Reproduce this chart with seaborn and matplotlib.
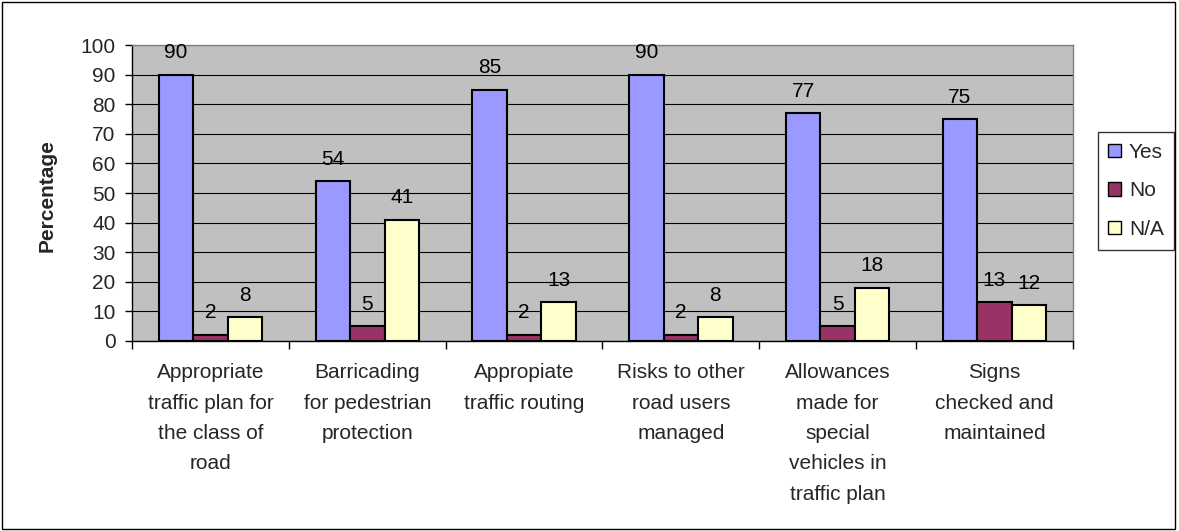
"""
Traffic management checklist - grouped bar chart
"""

import matplotlib
matplotlib.use('Agg')
import matplotlib.pyplot as plt
import matplotlib.patches as mpatches
import pandas as pd
import seaborn as sns

# Categories and series values
CATEGORIES = [
    'Appropriate\ntraffic plan for\nthe class of\nroad',
    'Barricading\nfor pedestrian\nprotection',
    'Appropiate\ntraffic routing',
    'Risks to other\nroad users\nmanaged',
    'Allowances\nmade for\nspecial\nvehicles in\ntraffic plan',
    'Signs\nchecked and\nmaintained',
]
SERIES = ['Yes', 'No', 'N/A']
YES = [90, 54, 85, 90, 77, 75]
NO = [2, 5, 2, 2, 5, 13]
NA = [8, 41, 13, 8, 18, 12]
Y_TICKS = [0, 10, 20, 30, 40, 50, 60, 70, 80, 90, 100]

COLORS = ['#9999FF', '#993366', '#FFFFCC']
FS = 15

# Long-form table for seaborn
rows = []
for name, vals in zip(SERIES, [YES, NO, NA]):
    for cat, v in zip(CATEGORIES, vals):
        rows.append({'category': cat, 'series': name, 'value': v})
df = pd.DataFrame(rows)

sns.set_style('white')
plt.rcParams['font.family'] = ['Liberation Sans', 'DejaVu Sans']

fig = plt.figure(figsize=(11.79, 5.31), dpi=100)
ax = fig.add_axes([0.112, 0.358, 0.798, 0.557])

sns.barplot(data=df, x='category', y='value', hue='series',
            hue_order=SERIES, palette=COLORS, width=0.66,
            edgecolor='black', linewidth=1.5, saturation=1,
            ax=ax, legend=False, zorder=3)

for container in ax.containers:
    ax.bar_label(container, padding=9, fontsize=FS, color='black')

# Excel-style plot area
ax.set_facecolor('#C0C0C0')
ax.set_ylim(0, 100)
ax.set_xlim(-0.5, len(CATEGORIES) - 0.5)
ax.set_yticks(Y_TICKS)
ax.yaxis.grid(True, color='black', linewidth=0.8, zorder=0)
ax.set_axisbelow(True)
for side in ['top', 'right']:
    ax.spines[side].set_color('#808080')
    ax.spines[side].set_linewidth(1)
for side in ['left', 'bottom']:
    ax.spines[side].set_color('black')
    ax.spines[side].set_linewidth(1)

ax.tick_params(axis='y', which='major', direction='out', length=5,
               width=1, color='black', labelsize=FS, pad=7, left=True)
ax.tick_params(axis='x', which='major', length=0, labelsize=FS, pad=16)
ax.set_xticks([i - 0.5 for i in range(len(CATEGORIES) + 1)], minor=True)
ax.tick_params(axis='x', which='minor', direction='out', length=6,
               width=1, color='black', bottom=True)
for lbl in ax.get_xticklabels():
    lbl.set_linespacing(1.76)
    lbl.set_verticalalignment('top')

ax.set_xlabel('')
ax.set_ylabel('Percentage', fontsize=FS, fontweight='bold')
ax.yaxis.set_label_coords(-0.08, 0.49)

# Legend on the right
handles = [mpatches.Patch(facecolor=c, edgecolor='black', label=s)
           for s, c in zip(SERIES, COLORS)]
leg = fig.legend(handles=handles, loc='upper left',
                 bbox_to_anchor=(0.931, 0.751), fontsize=FS,
                 frameon=True, fancybox=False, edgecolor='black',
                 handlelength=0.6, handleheight=0.6, handletextpad=0.4,
                 labelspacing=0.95, borderpad=0.5, borderaxespad=0)
leg.get_frame().set_linewidth(1)

# Border around the whole chart
fig.patches.append(mpatches.Rectangle((0.002, 0.004), 0.995, 0.992,
                                      transform=fig.transFigure,
                                      fill=False, edgecolor='black',
                                      linewidth=1))

fig.savefig('out.png', dpi=100)
